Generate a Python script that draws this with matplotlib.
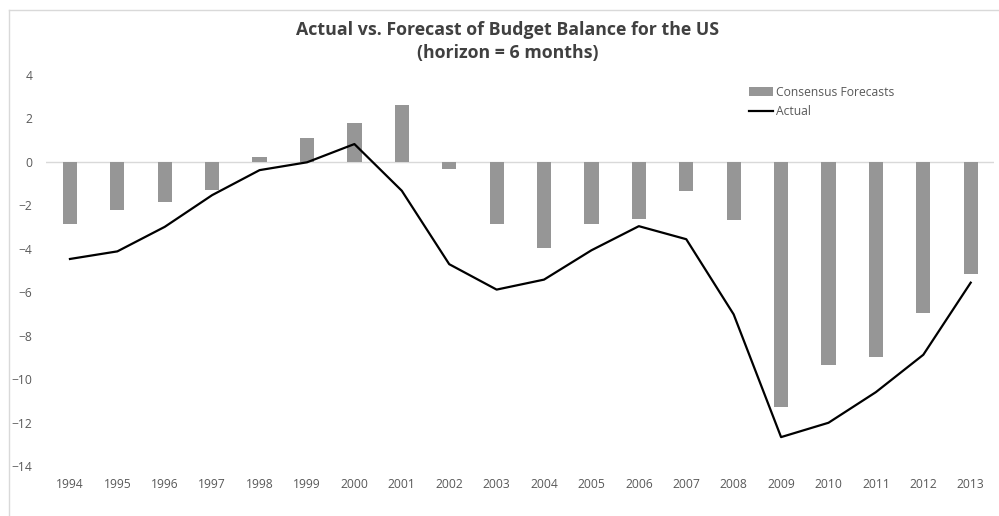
import matplotlib
matplotlib.use("Agg")
import matplotlib.pyplot as plt
from matplotlib.lines import Line2D

plt.rcParams['font.family'] = ['Open Sans', 'DejaVu Sans']

years = [str(y) for y in range(1994, 2014)]
consensus = [-2.85, -2.23, -1.86, -1.30, 0.23, 1.09, 1.80, 2.60, -0.35, -2.84,
             -3.95, -2.87, -2.63, -1.35, -2.69, -11.30, -9.34, -8.98, -6.97, -5.17]
actual = [-4.47, -4.12, -2.99, -1.53, -0.38, -0.02, 0.82, -1.33, -4.71, -5.88,
          -5.42, -4.07, -2.96, -3.56, -7.02, -12.67, -12.01, -10.60, -8.88, -5.56]
yticks = [4, 2, 0, -2, -4, -6, -8, -10, -12, -14]

grey_txt = '#595959'

fig = plt.figure(figsize=(9.99, 5.16), dpi=100)
ax = fig.add_axes([0.0463, 0.0969, 0.9491, 0.7578])

x = range(len(years))
bars = ax.bar(x, consensus, width=0.30, color='#969696', label='Consensus Forecasts', zorder=2)
line, = ax.plot(x, actual, color='black', lw=1.6, label='Actual', zorder=3)
ax.axhline(0, color='#d9d9d9', lw=1, zorder=1)

ax.set_xlim(-0.5, len(years) - 0.5)
ax.set_ylim(-14, 4)
ax.set_yticks(yticks)
ax.set_xticks(list(x))
ax.set_xticklabels(years)
for s in ax.spines.values():
    s.set_visible(False)
ax.tick_params(axis='both', length=0, labelsize=8.7, colors=grey_txt)
ax.tick_params(axis='x', pad=9)
ax.tick_params(axis='y', pad=10)

fig.text(0.508, 0.941, 'Actual vs. Forecast of Budget Balance for the US',
         ha='center', va='center', fontsize=12.8, fontweight='bold', color='#404040')
fig.text(0.508, 0.897, '(horizon = 6 months)',
         ha='center', va='center', fontsize=12.8, fontweight='bold', color='#404040')

leg = fig.legend([bars, line], ['Consensus Forecasts', 'Actual'],
                 loc='upper left', bbox_to_anchor=(0.739, 0.855), frameon=False,
                 fontsize=8.7, handlelength=2.0, handletextpad=0.2, labelspacing=0.55)
for t in leg.get_texts():
    t.set_color(grey_txt)

# chart frame
fig.add_artist(Line2D([0.0095, 1.0], [1 - 9.5 / 516, 1 - 9.5 / 516], color='#d9d9d9', lw=1))
fig.add_artist(Line2D([0.0095, 0.0095], [0.0, 1 - 9.5 / 516], color='#d9d9d9', lw=1))

fig.savefig('out.png', dpi=100)
